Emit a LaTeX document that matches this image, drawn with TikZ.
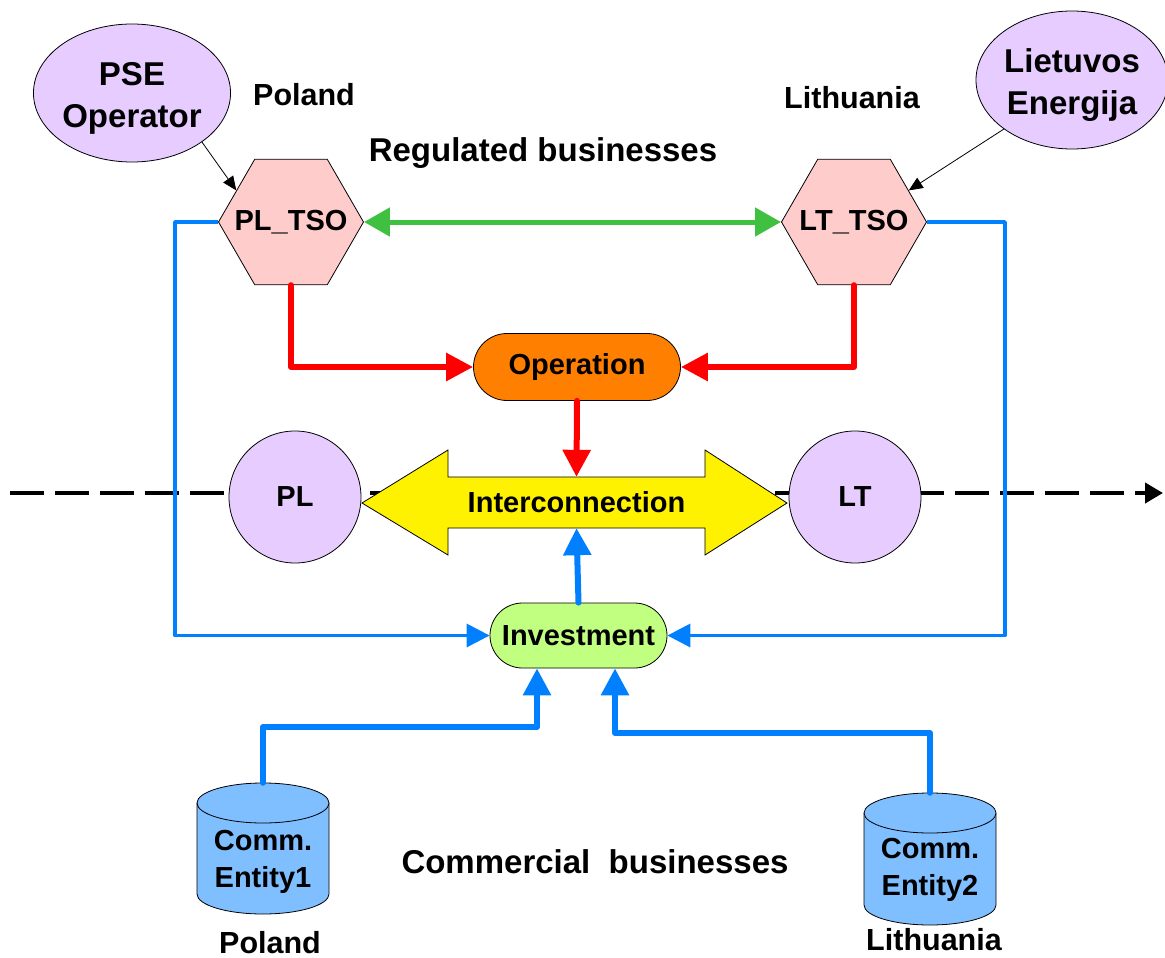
\documentclass[tikz,border=0pt]{standalone}
\usepackage{fontspec}
\setmainfont{Liberation Sans}
\usetikzlibrary{shapes.geometric,shapes.misc,arrows.meta}
\definecolor{lav}{HTML}{E6CCFF}
\definecolor{hexpink}{HTML}{FFCCCC}
\definecolor{opor}{HTML}{FF8000}
\definecolor{invgr}{HTML}{C0FF80}
\definecolor{bl}{HTML}{0080FF}
\definecolor{cyl}{HTML}{80BFFF}
\definecolor{gr}{HTML}{40C040}
\definecolor{rd}{HTML}{FF0000}
\newcommand\myBig{\fontsize{33}{42}\selectfont\bfseries}
\newcommand\myMid{\fontsize{30.5}{36}\selectfont\bfseries}
\newcommand\myNode{\fontsize{29}{37}\selectfont\bfseries}
\newcommand\myStack[2]{\raisebox{#1}[\height][\depth]{\begin{tabular}{@{}c@{}}#2\end{tabular}}}
\begin{document}
\begin{tikzpicture}[x=1pt,y=-1pt,
  txt/.style={inner sep=0pt, align=center},
  ell/.style={ellipse, draw, fill=lav, line width=0.8pt, inner sep=0pt, minimum width=192pt, minimum height=138pt, font=\myBig},
  circ/.style={ellipse, draw, fill=lav, line width=0.8pt, inner sep=0pt, minimum width=132pt, minimum height=132pt, font=\myNode},
  hexa/.style={regular polygon, regular polygon sides=6, draw, fill=hexpink, line width=0.8pt, minimum size=145pt, inner sep=0pt, font=\myNode},
  pill/.style={rounded rectangle, draw, line width=0.8pt, inner sep=0pt, font=\myNode},
  thinarr/.style={line width=0.8pt, -{Triangle[length=14pt,width=12pt]}},
  redarr/.style={rd, line width=6pt, line join=round, line cap=round, -{Triangle[length=27pt,width=27pt]}},
  bluethin/.style={bl, line width=3.5pt, line join=round, -{Triangle[length=23pt,width=23pt]}},
  bluethick/.style={bl, line width=6pt, line join=round, line cap=round, -{Triangle[length=27pt,width=27pt]}},
  greenarr/.style={gr, line width=5pt, {Triangle[length=26pt,width=28pt]}-{Triangle[length=26pt,width=28pt]}},
  dashline/.style={line width=4pt, dash pattern=on 34pt off 11pt, -{Triangle[length=18pt,width=20pt]}}
]
\useasboundingbox (0,0) rectangle (1165,958);

% dashed border line (behind)
\coordinate (dl) at (10,493);
\coordinate (dr) at (1163,493);
\draw[dashline] (dl) -- (dr);

% top nodes
\node[ell] (pse) at (132,93) {\myStack{-5pt}{PSE\\Operator}};
\node[ell] (lie) at (1072,80) {\myStack{-5pt}{Lietuvos\\Energija}};
\node[txt, font=\myMid] (polT) at (304,95) {Poland};
\node[txt, font=\myMid] (litT) at (852,98) {Lithuania};
\node[txt, font=\myBig] (reg) at (543,153) {Regulated businesses};

\node[hexa] (pltso) at (291,222) {\makebox[0pt]{PL\_TSO}};
\node[hexa] (lttso) at (854,222) {\makebox[0pt]{LT\_TSO}};

\node[pill, fill=opor, minimum width=207pt, minimum height=67pt] (op) at (577,367) {Operation};

% interconnection double arrow
\draw[fill=yellow, line width=0.8pt, line join=miter] (362,503) -- (448,450) -- (448,477) -- (705,477) -- (705,450) -- (787,503) -- (705,555) -- (705,528) -- (448,528) -- (448,555) -- cycle;
\node[txt, minimum width=257pt, minimum height=51pt, font=\myNode] (ic) at (576.5,502.5) {Interconnection};

\node[circ] (pl) at (295,497) {PL};
\node[circ] (lt) at (855,497) {LT};

\node[pill, fill=invgr, minimum width=177pt, minimum height=65pt] (inv) at (578.5,635.5) {Investment};

% cylinders
\fill[cyl] (197,803) -- (197,894) arc (180:0:66 and 20) -- (329,803) -- cycle;
\draw[line width=0.8pt] (197,803) -- (197,894) arc (180:0:66 and 20) -- (329,803);
\draw[line width=0.8pt, fill=cyl] (263,803) ellipse (66 and 20);
\node[txt, minimum width=132pt, minimum height=131pt] (ce1) at (263,848.5) {};
\node[txt, font=\myNode] (ce1t) at (263,862) {Comm.\\Entity1};

\fill[cyl] (864,813) -- (864,905) arc (180:0:66 and 20) -- (996,813) -- cycle;
\draw[line width=0.8pt] (864,813) -- (864,905) arc (180:0:66 and 20) -- (996,813);
\draw[line width=0.8pt, fill=cyl] (930,813) ellipse (66 and 20);
\node[txt, minimum width=132pt, minimum height=132pt] (ce2) at (930,859) {};
\node[txt, font=\myNode] (ce2t) at (930,870) {Comm.\\Entity2};

\node[txt, font=\myBig] (com) at (595,862) {Commercial\ \ businesses};
\node[txt, font=\myMid] (polB) at (270,943) {Poland};
\node[txt, font=\myMid] (litB) at (934,940) {Lithuania};

% connectors
\draw[thinarr] (pse.south east) -- (pltso.150);
\draw[thinarr] (lie.south west) -- (lttso.30);
\draw[greenarr] (pltso.east) -- (lttso.west);
\draw[redarr] (pltso.south) |- (op.west);
\draw[redarr] (lttso.south) |- (op.east);
\draw[redarr] (op.south) -- (ic.north);
\draw[bluethick] (inv.north) -- (ic.south);

\coordinate (blL) at (175,400);
\coordinate (blR) at (1005,400);
\draw[bluethin] (pltso.west) -| (blL) |- (inv.west);
\draw[bluethin] (lttso.east) -| (blR) |- (inv.east);

\coordinate (k1) at (537,727);
\coordinate (k2) at (615,733);
\draw[bluethick] (ce1.north) |- (k1) -- (k1 |- inv.south);
\draw[bluethick] (ce2.north) |- (k2) -- (k2 |- inv.south);
\end{tikzpicture}
\end{document}
